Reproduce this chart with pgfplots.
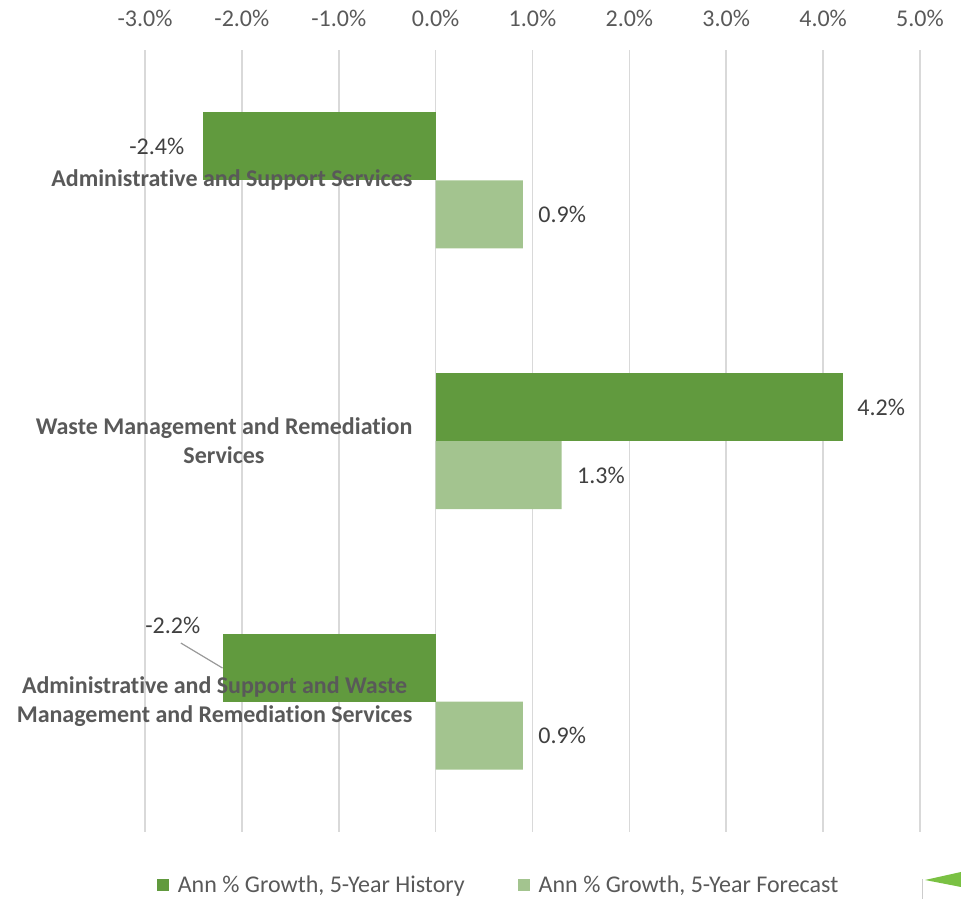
\documentclass[border=0pt]{standalone}
\usepackage{pgfplots}
\pgfplotsset{compat=1.18}
\usepackage{fontspec}
\setmainfont{Carlito}[Ligatures=NoCommon]
\definecolor{hist}{HTML}{619A3E}
\definecolor{fore}{HTML}{A3C48F}
\definecolor{txt}{HTML}{595959}
\definecolor{lbl}{HTML}{404040}
\definecolor{gridc}{HTML}{D9D9D9}
\begin{document}
\begin{tikzpicture}
\useasboundingbox (0,0) rectangle (720.75pt,674.25pt);
\begin{axis}[
  at={(108.75pt,50.25pt)}, anchor=south west,
  scale only axis, width=581.25pt, height=586.5pt,
  xmin=-3, xmax=5, ymin=-0.5, ymax=2.5, y dir=reverse,
  axis line style={draw=none},
  major tick length=0pt,
  xtick={-3,-2,-1,0,1,2,3,4,5},
  xticklabel pos=upper,
  xticklabel={\pgfmathprintnumber[fixed,fixed zerofill,precision=1,assume math mode=true]{\tick}\%},
  xticklabel style={font=\fontsize{18}{21}\selectfont, text=txt, yshift=14.25pt},
  xmajorgrids, grid style={gridc, line width=1.3pt},
  ytick=\empty,
  xbar, bar width=0.261, bar shift=0pt,
  point meta=x,
  nodes near coords={\pgfmathprintnumber[fixed,fixed zerofill,precision=1,assume math mode=true]{\pgfplotspointmeta}\%},
  every node near coord/.append style={font=\fontsize{18}{21}\selectfont, text=lbl, inner sep=0pt},
  legend style={at={(0.4568,0)}, yshift=-39.75pt, anchor=center, draw=none, fill=none,
     font=\fontsize{18}{21}\selectfont, text=txt, legend columns=2,
     /tikz/every odd column/.append style={column sep=4.5pt},
     /tikz/every even column/.append style={column sep=38pt}},
  legend image code/.code={\fill[#1] (0pt,-4.5pt) rectangle (9pt,4.5pt);},
  legend cell align=left,
  clip=false,
]
\addplot[fill=hist, draw=none, every node near coord/.append style={anchor=west, xshift=11pt}]
  coordinates {(4.2,0.8695)};
\addplot[fill=fore, draw=none, every node near coord/.append style={anchor=west, xshift=11.5pt}]
  coordinates {(0.9,0.1305) (1.3,1.1305) (0.9,2.1305)};
\addplot[forget plot, fill=hist, draw=none, every node near coord/.append style={anchor=east, xshift=-14pt}]
  coordinates {(-2.4,-0.1305)};
\addplot[forget plot, fill=hist, draw=none, every node near coord/.append style={anchor=east, xshift=-16.5pt, yshift=32pt}]
  coordinates {(-2.2,1.8695)};
\draw[color=gray!80, line width=0.9pt] (axis cs:-2.63,1.775) -- (axis cs:-2.2,1.871);
\legend{Ann \% Growth{,} 5-Year History, Ann \% Growth{,} 5-Year Forecast}
\begin{scope}[every node/.style={anchor=east, inner sep=0pt, xshift=-17.25pt, align=center,
     font=\fontsize{18}{21.75}\selectfont\bfseries, text=txt}]
\node at (axis cs:0,0) {Administrative and Support Services};
\node at (axis cs:0,1) {Waste Management and Remediation\\Services};
\node at (axis cs:0,2) {Administrative and Support and Waste\\Management and Remediation Services};
\end{scope}
\end{axis}
\fill[color={rgb,255:red,122;green,193;blue,67}] (693.75pt,14.25pt) -- (720.75pt,20.25pt) -- (720.75pt,9pt) -- cycle;
\draw[color=gray!40, line width=0.5pt] (691.5pt,0pt) -- (691.5pt,15pt);
\end{tikzpicture}
\end{document}
